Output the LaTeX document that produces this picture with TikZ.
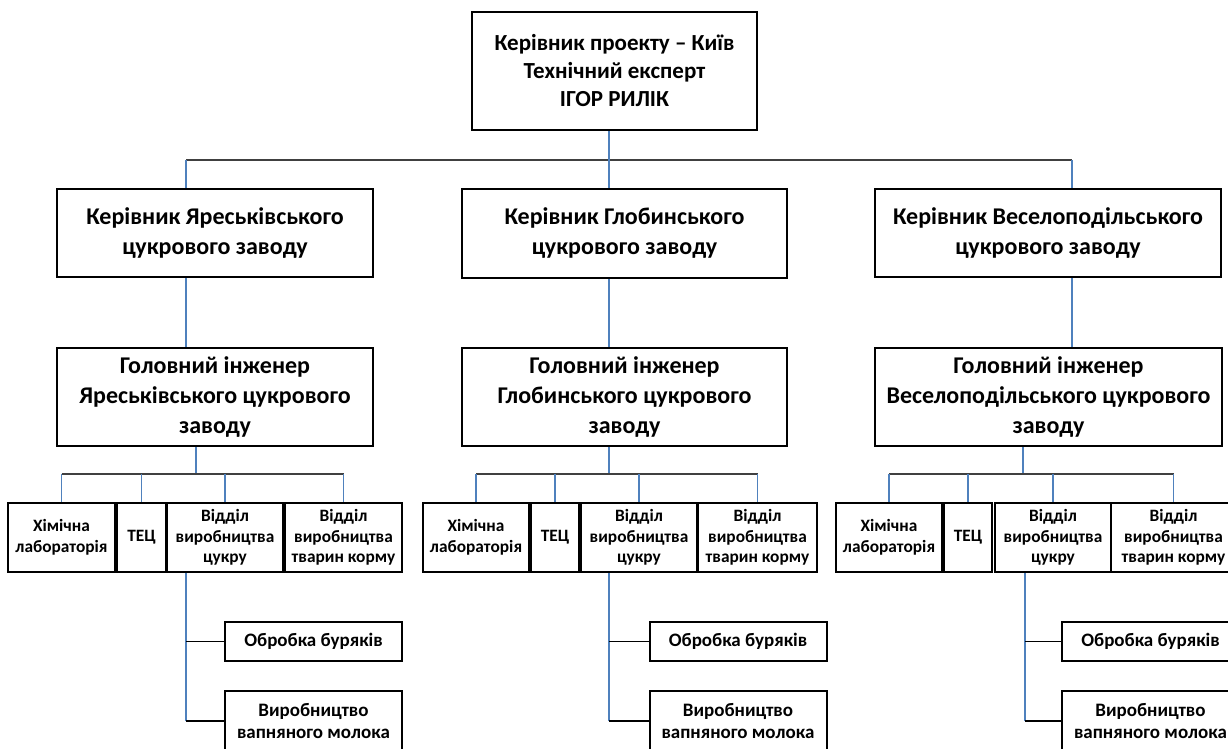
\documentclass[tikz,border=0pt]{standalone}
\usepackage{fontspec}
\setmainfont{Carlito}
\definecolor{linkblue}{RGB}{79,129,189}
\definecolor{barline}{RGB}{64,64,64}

\begin{document}
\begin{tikzpicture}[x=0.75pt, y=-0.75pt,
		box/.style={draw=black, line width=1.5pt, fill=white, align=center, inner sep=1pt, font=\bfseries\fontsize{17.25}{21}\selectfont},
		rank/.style={box, font=\bfseries\fontsize{18}{22.5}\selectfont},
		unit/.style={box, minimum height=51.75pt, font=\bfseries\fontsize{13}{15.5}\selectfont},
		shop/.style={box, minimum width=132.75pt, font=\bfseries\fontsize{14.25}{16.5}\selectfont},
		vline/.style={draw=linkblue, line width=0.8pt},
		hline/.style={draw=barline, line width=1.1pt},
		branch/.style={draw=black, line width=0.8pt}]
		%%%%% START %%%%%
		\useasboundingbox (0,0) rectangle (1228,749);
		\clip (0,0) rectangle (1228,749);
		
		% project head
		\node[box, minimum width=213.75pt, minimum height=88.5pt] (kyiv) at (614.5,71) {Керівник проекту – Київ\\Технічний експерт\\ІГОР РИЛІК};
		
		% factory heads
		\node[rank, minimum width=237pt, minimum height=66pt] (yarboss) at (215,233) {Керівник Яреськівського\\цукрового заводу};
		\node[rank, minimum width=243.75pt, minimum height=66.75pt] (globboss) at (624.5,233.5) {Керівник Глобинського\\цукрового заводу};
		\node[rank, minimum width=259.5pt, minimum height=66pt] (vesboss) at (1048,233) {Керівник Веселоподільського\\цукрового заводу};
		
		% chief engineers
		\node[rank, minimum width=237pt, minimum height=73.5pt] (yareng) at (215,397) {Головний інженер\\Яреськівського цукрового\\заводу};
		\node[rank, minimum width=243.75pt, minimum height=73.5pt] (globeng) at (624.5,397) {Головний інженер\\Глобинського цукрового\\заводу};
		\node[rank, minimum width=260.25pt, minimum height=73.5pt] (veseng) at (1048.5,397) {Головний інженер\\Веселоподільського цукрового\\заводу};
		
		% Yaresky units
		\node[unit, minimum width=80.25pt] (yarchem) at (61.5,537.5) {Хімічна\\лабораторія};
		\node[unit, minimum width=36.75pt] (yartec) at (141.5,537.5) {ТЕЦ};
		\node[unit, minimum width=87pt] (yarsug) at (225,537.5) {Відділ\\виробництва\\цукру};
		\node[unit, minimum width=87.75pt] (yarfeed) at (343.5,537.5) {Відділ\\виробництва\\тварин корму};
		\node[shop, minimum height=29.25pt] (yarbeet) at (313.5,641.5) {Обробка буряків};
		\node[shop, minimum height=45pt] (yarlime) at (313.5,721) {Виробництво\\вапняного молока};
		
		% Globyne units
		\node[unit, minimum width=79.5pt] (globchem) at (476,537.5) {Хімічна\\лабораторія};
		\node[unit, minimum width=36pt] (globtec) at (555,537.5) {ТЕЦ};
		\node[unit, minimum width=87pt] (globsug) at (639,537.5) {Відділ\\виробництва\\цукру};
		\node[unit, minimum width=89.25pt] (globfeed) at (757.5,537.5) {Відділ\\виробництва\\тварин корму};
		\node[shop, minimum height=29.25pt] (globbeet) at (738,641.5) {Обробка буряків};
		\node[shop, minimum height=45pt] (globlime) at (738,721) {Виробництво\\вапняного молока};
		
		% Veselopodilsk units
		\node[unit, minimum width=79.5pt] (veschem) at (889,537.5) {Хімічна\\лабораторія};
		\node[unit, minimum width=36pt] (vestec) at (968,537.5) {ТЕЦ};
		\node[unit, minimum width=87pt] (vessug) at (1053,537.5) {Відділ\\виробництва\\цукру};
		\node[unit, minimum width=93.75pt] (vesfeed) at (1173.5,537.5) {Відділ\\виробництва\\тварин корму};
		\node[shop, minimum height=29.25pt] (vesbeet) at (1150.5,641.5) {Обробка буряків};
		\node[shop, minimum height=45pt] (veslime) at (1150.5,721) {Виробництво\\вапняного молока};
		
		% junctions
		\coordinate (yarA) at (186,160);
		\coordinate (globA) at (609,160);
		\coordinate (vesA) at (1072,160);
		\coordinate (yarB) at (196,474);
		\coordinate (globB) at (609,474);
		\coordinate (vesB) at (1023,474);
		\coordinate (yarC) at (186,721);
		\coordinate (globC) at (609,721);
		\coordinate (vesC) at (1025,721);
		
		% top level
		\draw[hline] (yarA) -- (vesA);
		\draw[vline] (kyiv.south -| globA) -- (globA);
		
		% Yaresky
		\draw[vline] (yarA) -- (yarA |- yarboss.north);
		\draw[vline] (yarboss.south -| yarA) -- (yarA |- yareng.north);
		\draw[vline] (yareng.south -| yarB) -- (yarB);
		\draw[hline] (yarB -| yarchem.north) -- (yarB -| yarfeed.north);
		\draw[vline] (yarB -| yarchem.north) -- (yarchem.north);
		\draw[vline] (yarB -| yartec.north) -- (yartec.north);
		\draw[vline] (yarB -| yarsug.north) -- (yarsug.north);
		\draw[vline] (yarB -| yarfeed.north) -- (yarfeed.north);
		\draw[vline] (yarsug.south -| yarC) -- (yarC);
		\draw[branch] (yarC |- yarbeet.west) -- (yarbeet.west);
		\draw[branch] (yarC) -- (yarlime.west);
		
		% Globyne
		\draw[vline] (globA) -- (globA |- globboss.north);
		\draw[vline] (globboss.south -| globA) -- (globA |- globeng.north);
		\draw[vline] (globeng.south -| globB) -- (globB);
		\draw[hline] (globB -| globchem.north) -- (globB -| globfeed.north);
		\draw[vline] (globB -| globchem.north) -- (globchem.north);
		\draw[vline] (globB -| globtec.north) -- (globtec.north);
		\draw[vline] (globB -| globsug.north) -- (globsug.north);
		\draw[vline] (globB -| globfeed.north) -- (globfeed.north);
		\draw[vline] (globsug.south -| globC) -- (globC);
		\draw[branch] (globC |- globbeet.west) -- (globbeet.west);
		\draw[branch] (globC) -- (globlime.west);
		
		% Veselopodilsk
		\draw[vline] (vesA) -- (vesA |- vesboss.north);
		\draw[vline] (vesboss.south -| vesA) -- (vesA |- veseng.north);
		\draw[vline] (veseng.south -| vesB) -- (vesB);
		\draw[hline] (vesB -| veschem.north) -- (vesB -| vesfeed.north);
		\draw[vline] (vesB -| veschem.north) -- (veschem.north);
		\draw[vline] (vesB -| vestec.north) -- (vestec.north);
		\draw[vline] (vesB -| vessug.north) -- (vessug.north);
		\draw[vline] (vesB -| vesfeed.north) -- (vesfeed.north);
		\draw[vline] (vessug.south -| vesC) -- (vesC);
		\draw[branch] (vesC |- vesbeet.west) -- (vesbeet.west);
		\draw[branch] (vesC) -- (veslime.west);
		%%%%% END %%%%%
	\end{tikzpicture}
\end{document}
